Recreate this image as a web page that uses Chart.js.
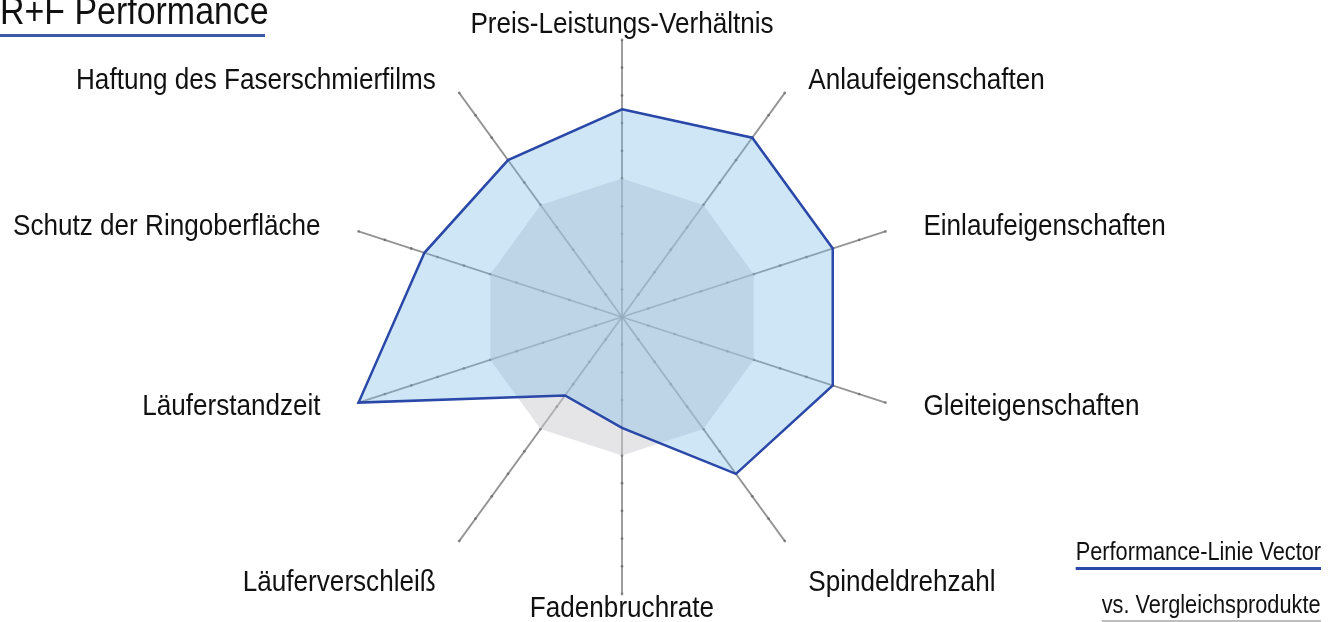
<!DOCTYPE html>
<html>
<head>
<meta charset="utf-8">
<script src="https://cdn.jsdelivr.net/npm/chart.js@4.4.0/dist/chart.umd.min.js"></script>
<style>
  body { margin: 0; background: #fff; overflow: hidden; }
  #wrap { position: relative; width: 1338px; height: 622px; font-family: "Liberation Sans", Arial, sans-serif; color: #111; }
  #title { position: absolute; left: 0; top: -9px; font-size: 39px; line-height: 39px; white-space: nowrap; transform: scaleX(0.87); transform-origin: left top; }
  #titleLine { position: absolute; left: 0; top: 34px; width: 265px; height: 3px; background: #3d5aa8; }
  #legend { position: absolute; right: 17px; top: 538px; text-align: right; }
  #legend .item { height: 53px; }
  #legend span { display: inline-block; font-size: 25px; line-height: 27px; padding-bottom: 2px; border-bottom: 3px solid; transform: scaleX(0.87); transform-origin: right top; white-space: nowrap; }
</style>
</head>
<body>
<div id="wrap">
  <canvas id="myChart" width="1338" height="622"></canvas>
  <div id="title">R+F Performance</div>
  <div id="titleLine"></div>
  <div id="legend"></div>
</div>
<script>
var categories = [
  "Preis-Leistungs-Verhältnis",
  "Anlaufeigenschaften",
  "Einlaufeigenschaften",
  "Gleiteigenschaften",
  "Spindeldrehzahl",
  "Fadenbruchrate",
  "Läuferverschleiß",
  "Läuferstandzeit",
  "Schutz der Ringoberfläche",
  "Haftung des Faserschmierfilms"
];
var vectorValues = [7.5, 8, 8, 8, 7, 4, 3.5, 10, 7.5, 7];
var compareValues = [5, 5, 5, 5, 5, 5, 5, 5, 5, 5];
var seriesNames = ["Performance-Linie Vector", "vs. Vergleichsprodukte"];

var labelFont = '30px "Liberation Sans", Arial, sans-serif';
var narrow = 0.87; // the original type is a condensed sans

// small dots along every axis, one per unit
var axisTicks = {
  id: 'axisTicks',
  beforeDatasetsDraw: function(chart) {
    var scale = chart.scales.r;
    var ctx = chart.ctx;
    ctx.save();
    ctx.fillStyle = 'rgba(100,100,100,0.7)';
    for (var i = 0; i < categories.length; i++) {
      for (var v = 1; v <= 10; v++) {
        var p = scale.getPointPosition(i, scale.getDistanceFromCenterForValue(v));
        ctx.beginPath();
        ctx.arc(p.x, p.y, 1.4, 0, Math.PI * 2);
        ctx.fill();
      }
    }
    ctx.restore();
  }
};

// axis titles, placed a bit outside the end of each angle line
var axisLabels = {
  id: 'axisLabels',
  afterDraw: function(chart) {
    var scale = chart.scales.r;
    var ctx = chart.ctx;
    for (var i = 0; i < categories.length; i++) {
      var p = scale.getPointPosition(i, scale.drawingArea);
      var dx = p.x - scale.xCenter;
      var dy = p.y - scale.yCenter;
      var x = scale.xCenter + dx * 1.144;
      var y = scale.yCenter + dy * 1.054;
      ctx.save();
      ctx.font = labelFont;
      ctx.fillStyle = '#111';
      ctx.textBaseline = 'middle';
      if (Math.abs(dx) < 1) {
        ctx.textAlign = 'center';
      } else {
        ctx.textAlign = dx > 0 ? 'left' : 'right';
        if (dy > scale.drawingArea * 0.5) y += 30;
      }
      ctx.translate(x, y);
      ctx.scale(narrow, 1);
      ctx.fillText(categories[i], 0, 0);
      ctx.restore();
    }
  }
};

var ctx = document.getElementById('myChart');
var chart = new Chart(ctx, {
  type: 'radar',
  data: {
    labels: categories,
    datasets: [{
      label: seriesNames[0],
      data: vectorValues,
      borderColor: 'rgb(42,72,168)',
      backgroundColor: 'rgba(125,188,233,0.37)',
      borderWidth: 2.5,
      pointRadius: 0,
      fill: true
    }, {
      label: seriesNames[1],
      data: compareValues,
      borderColor: 'rgb(190,190,190)',
      backgroundColor: 'rgba(203,203,207,0.5)',
      borderWidth: 0,
      pointRadius: 0,
      fill: true
    }]
  },
  options: {
    responsive: false,
    animation: false,
    layout: { padding: { left: 345, right: 439, top: 40, bottom: 28 } },
    plugins: {
      legend: { display: false },
      tooltip: { enabled: false }
    },
    scales: {
      r: {
        min: 0,
        max: 10,
        ticks: { display: false, stepSize: 1 },
        grid: { display: false },
        angleLines: { display: true, color: 'rgba(120,120,120,0.8)', lineWidth: 1.8 },
        pointLabels: { display: false }
      }
    }
  },
  plugins: [axisTicks, axisLabels]
});

// legend: text with the series colour as underline
var legendBox = document.getElementById('legend');
chart.data.datasets.forEach(function(ds) {
  var item = document.createElement('div');
  item.className = 'item';
  var span = document.createElement('span');
  span.textContent = ds.label;
  span.style.borderBottomColor = ds.borderColor;
  item.appendChild(span);
  legendBox.appendChild(item);
});
</script>
</body>
</html>
